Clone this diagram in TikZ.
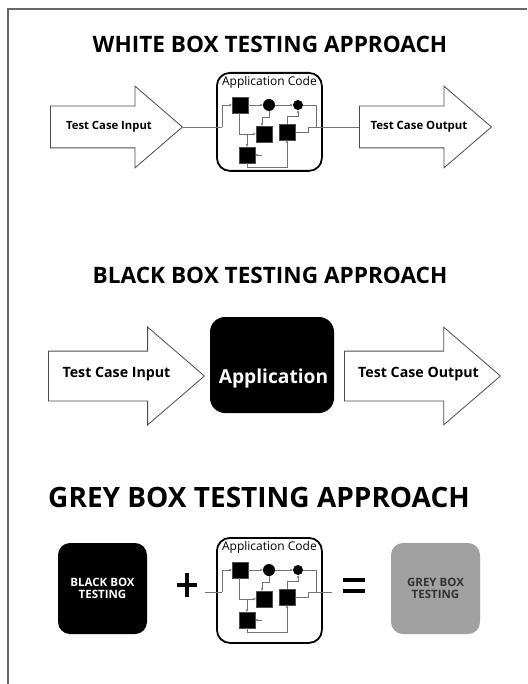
\documentclass[tikz,border=0pt]{standalone}
\usepackage{fontspec}
\setmainfont{Open Sans}
\usetikzlibrary{arrows.meta, shapes.arrows, positioning}

\begin{document}
\begin{tikzpicture}[
  x=1pt, y=-1pt,
  frame/.style={draw=black!60, line width=1.3pt},
  title/.style={font=\fontsize{22.6}{24}\selectfont\bfseries},
  bigarrow/.style={single arrow, draw=black!70, fill=white, line width=0.8pt,
                   single arrow tip angle=81.5, anchor=tail, text height=7pt,
                   text depth=2pt, inner xsep=0pt},
  arrowtext/.style={font=\fontsize{#1}{13}\selectfont\bfseries, inner sep=0pt},
  codebox/.style={draw, rounded corners=13pt, line width=1.8pt, minimum width=105pt,
                  anchor=north west, inner sep=0pt},
  blk/.style={fill=black, draw=black!70, line width=0.3pt, minimum size=16pt, inner sep=0pt},
  dot/.style={circle, fill=black, inner sep=0pt, minimum size=#1},
  wire/.style={draw=black!55, line width=0.6pt},
  flow/.style={wire, -{Stealth[length=3pt, width=2.6pt]}},
  tile/.style={rounded corners=12pt, minimum width=89pt, minimum height=91pt, align=center,
               font=\fontsize{11.5}{12.5}\selectfont\bfseries, inner sep=0pt},
  bar/.style={line width=4.5pt}
]
\useasboundingbox (0,0) rectangle (527,684);
\draw[frame] (8,684) -- (8,9) -- (527,9);

% titles
\node[title] (wtitle) at (270,44) {WHITE BOX TESTING APPROACH};
\node[title] (btitle) at (270,275) {BLACK BOX TESTING APPROACH};
\node[title, font=\fontsize{28}{30}\selectfont\bfseries] (gtitle) at (259,497) {GREY BOX TESTING APPROACH};

% white box
\node[bigarrow, minimum height=132pt, inner ysep=16pt, single arrow head extend=20pt]
  (win) at (50,127) {};
\node[arrowtext=11.3] (win-txt) at (109,127) {Test Case Input};
\node[bigarrow, minimum height=132pt, inner ysep=16pt, single arrow head extend=20pt]
  (wout) at (359,127) {};
\node[arrowtext=11.4] (wout-txt) at (419,127) {Test Case Output};

% grey box
\coordinate (g-lin) at (205,592);
\coordinate (g-rout) at (332,592);
\node[tile, fill=black, text=white] (gblack) at (102.5,588.5) {BLACK BOX\\TESTING};
\node[tile, fill=black!37, text=black!80] (ggrey) at (435.5,588.5) {GREY BOX\\TESTING};
\draw[bar] (177,585) -- (197,585) (187,573) -- (187,597);
\draw[bar, line width=4pt] (343,580) -- (365,580) (343,591) -- (365,591);

% application code, twice
\foreach \s/\y/\h/\i/\o in {w/72/98pt/win.tip/wout.tail, g/537/105pt/g-lin/g-rout} {
  \begin{scope}[shift={(216,\y)}]
    \node[codebox, minimum height=\h] (\s-box) at (0,0) {};
    \node[font=\fontsize{12}{13}\selectfont, anchor=north, inner sep=0pt] (\s-lbl)
      at ([yshift=-4pt]\s-box.north) {Application Code};
    \node[blk] (\s-A) at (24,33) {};
    \node[dot=12pt] (\s-B) at (53,33) {};
    \node[dot=10pt] (\s-C) at (82,33) {};
    \node[blk] (\s-D) at (48,62) {};
    \node[blk] (\s-E) at (71,60) {};
    \node[blk] (\s-F) at (31,83) {};
    \coordinate (\s-inj) at (6,55);
    \coordinate (\s-cj) at (100,55);
    \coordinate (\s-fin) at (46,83);
  \end{scope}
  \draw[wire] (\i) -- (\s-inj);
  \draw[flow] (\s-inj) |- (\s-A);
  \draw[flow] (\s-A) -- (\s-B);
  \draw[flow] (\s-B) -- (\s-C);
  \draw[flow] ([xshift=-1pt]\s-A.south) |- (\s-D);
  \draw[flow] (\s-F.north |- \s-D) -- (\s-F);
  \draw[flow] (\s-B.south) -- ++(0,6) -| ([xshift=-2pt]\s-D.north);
  \draw[flow] (\s-E.north) -- ++(0,-8) -| (\s-C.south);
  \draw[flow] (\s-fin) -- (\s-F);
  \draw[flow] (\s-F.south) -- ++(0,4) -| (\s-E.south);
  \draw[wire] (\s-C.east) -| (\s-cj);
  \draw[wire] (\s-E.east) -- ++(13,0) |- (\o);
}

% black box
\node[bigarrow, minimum height=156pt, inner ysep=20pt, single arrow head extend=24pt]
  (bin) at (48,376) {};
\node[arrowtext=14.2] (bin-txt) at (116.5,374) {Test Case Input};
\node[fill=black, rounded corners=15pt, minimum width=124pt, minimum height=96pt]
  (bapp) at (272,365) {};
\node[text=white, font=\fontsize{19.2}{21}\selectfont\bfseries] (bapptxt) at (273.5,379) {Application};
\node[bigarrow, minimum height=156pt, inner ysep=20pt, single arrow head extend=24pt]
  (bout) at (344,376) {};
\node[arrowtext=14.2] (bout-txt) at (418.5,374) {Test Case Output};
\end{tikzpicture}
\end{document}
